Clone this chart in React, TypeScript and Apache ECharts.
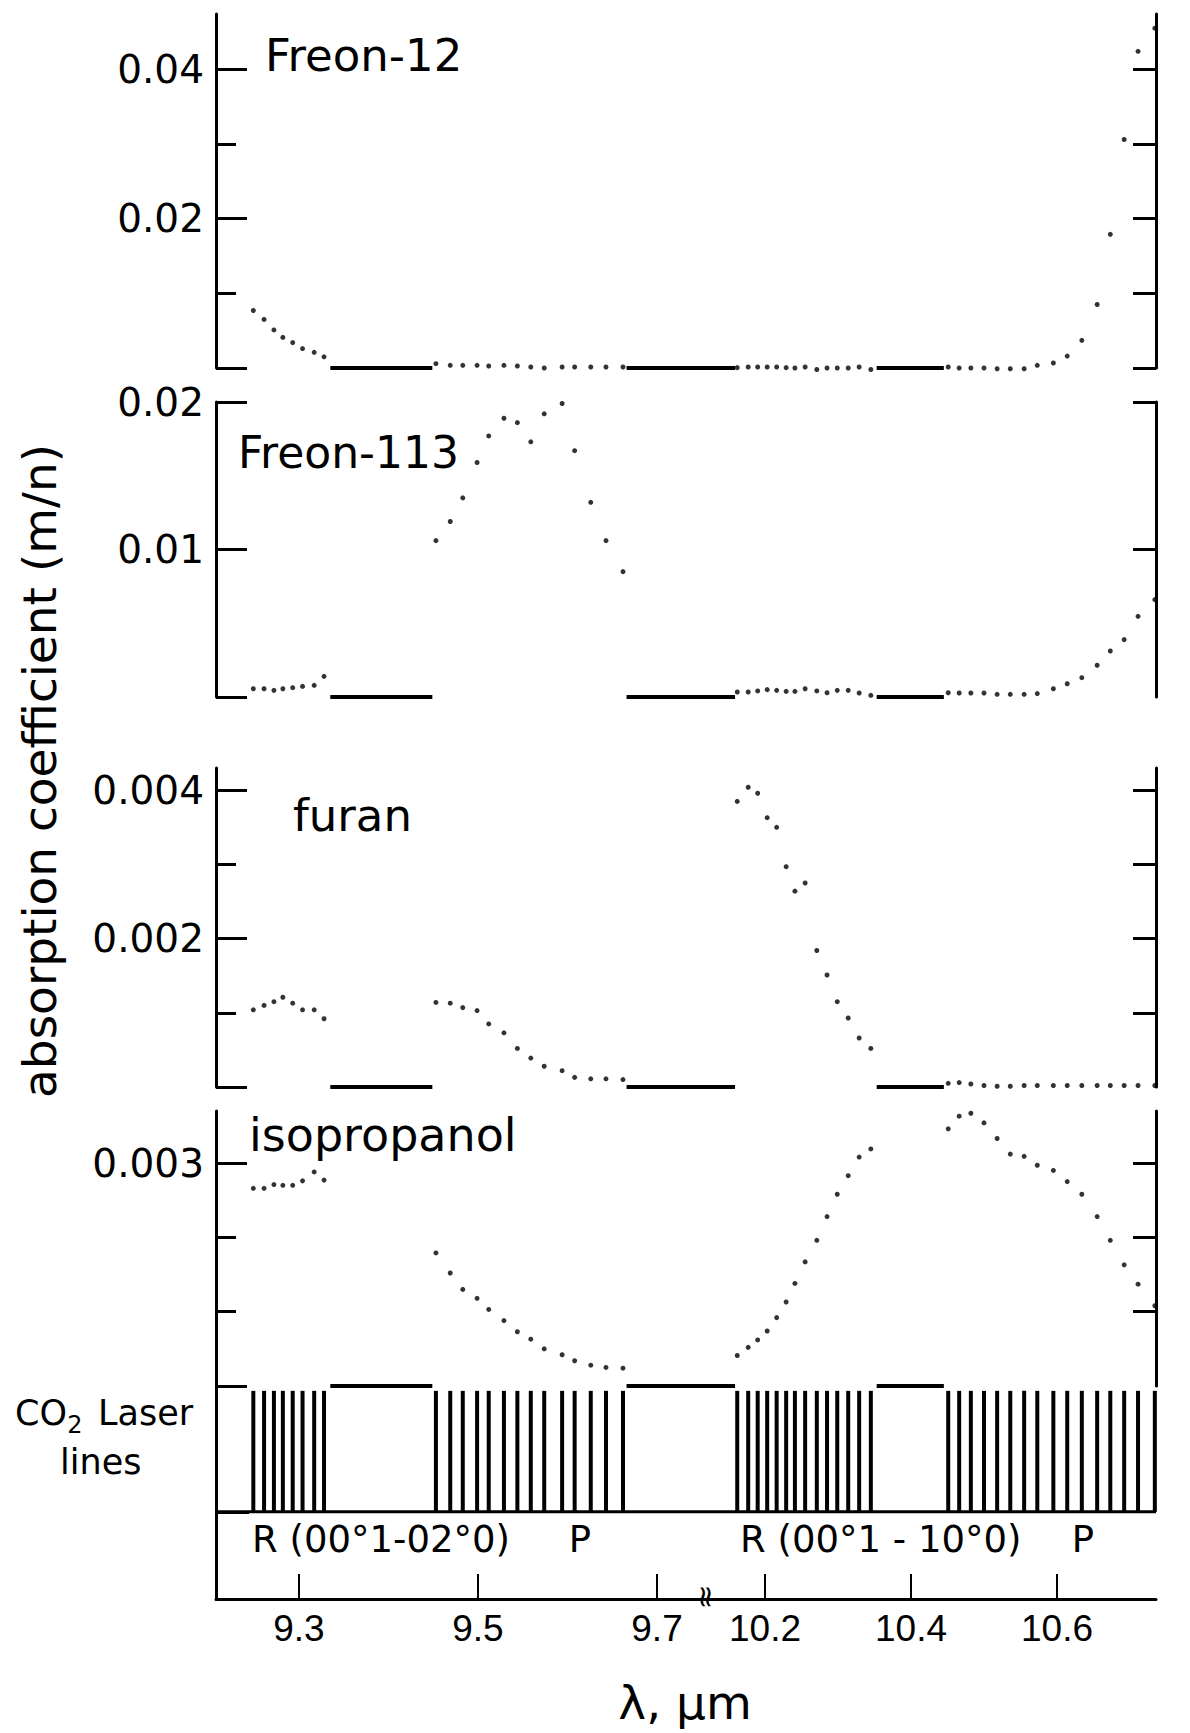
import React, { useEffect, useRef } from "react";
import * as echarts from "echarts";

// CO2 laser line wavelengths (µm)
const lambdaR94 = [9.249, 9.261, 9.272, 9.282, 9.293, 9.304, 9.317, 9.328];
const lambdaP94 = [9.453, 9.469, 9.483, 9.499, 9.512, 9.529, 9.544, 9.559, 9.574, 9.594, 9.608, 9.626, 9.643, 9.662];
const lambdaR104 = [10.162, 10.177, 10.19, 10.203, 10.216, 10.229, 10.241, 10.255, 10.271, 10.285, 10.299, 10.314, 10.329, 10.345];
const lambdaP104 = [10.451, 10.466, 10.482, 10.5, 10.518, 10.536, 10.555, 10.573, 10.595, 10.614, 10.634, 10.655, 10.673, 10.692, 10.711, 10.734];

// Freon-12
const freon12R94 = [0.0077, 0.0065, 0.0051, 0.0041, 0.0034, 0.0026, 0.0021, 0.0015];
const freon12P94 = [0.00058, 0.00036, 0.00036, 0.00036, 0.00027, 0.00036, 0.00027, 0.00013, 0.0, 0.00013, 0.00013, 0.00013, 0.00013, 0.00013];
const freon12R104 = [0.00005, 0.00013, 0.00013, 0.00013, 0.00013, 0.00005, 0.0, 0.00013, -0.0002, 0.0, 0.0, 0.0, 0.00013, -0.0002];
const freon12P104 = [0.00013, 0.0, 0.0, 0.0, -0.0001, -0.0001, -0.0001, 0.00036, 0.00067, 0.0016, 0.0037, 0.0085, 0.0179, 0.0306, 0.0424, 0.0455];

// Freon-113
const freon113R94 = [0.00056, 0.00056, 0.00045, 0.00056, 0.00063, 0.00072, 0.00079, 0.0014];
const freon113P94 = [0.0106, 0.0119, 0.0135, 0.0159, 0.0177, 0.0189, 0.0186, 0.0173, 0.0192, 0.0199, 0.0167, 0.0132, 0.0106, 0.0085];
const freon113R104 = [0.00034, 0.00034, 0.00041, 0.0005, 0.00045, 0.00038, 0.00038, 0.00056, 0.00041, 0.00029, 0.00045, 0.00045, 0.00027, 0.00011];
const freon113P104 = [0.00029, 0.00027, 0.00027, 0.00027, 0.00018, 0.00018, 0.00018, 0.00023, 0.00056, 0.0009, 0.00131, 0.00215, 0.00312, 0.00389, 0.00547, 0.0066];

// furan
const furanR94 = [0.00104, 0.0011, 0.00115, 0.00121, 0.00113, 0.00104, 0.00104, 0.00092];
const furanP94 = [0.00114, 0.00113, 0.00107, 0.00103, 0.00085, 0.00073, 0.00052, 0.00039, 0.00028, 0.00022, 0.00013, 0.00011, 0.00011, 0.0001];
const furanR104 = [0.00385, 0.00404, 0.00396, 0.00363, 0.0035, 0.00297, 0.00264, 0.00275, 0.00184, 0.00151, 0.00115, 0.00093, 0.00066, 0.00052];
const furanP104 = [0.00005, 0.00006, 0.00004, 0.00002, 0.00001, 0.00001, 0.00002, 0.00002, 0.00002, 0.00002, 0.00002, 0.00002, 0.00002, 0.00002, 0.00002, 0.00002];

// isopropanol
const isoR94 = [0.00266, 0.00266, 0.00271, 0.0027, 0.0027, 0.00276, 0.00288, 0.00277];
const isoP94 = [0.00179, 0.00152, 0.0013, 0.00118, 0.00103, 0.00088, 0.00073, 0.00063, 0.0005, 0.00042, 0.00034, 0.00028, 0.00025, 0.00024];
const isoR104 = [0.00041, 0.00052, 0.00062, 0.00074, 0.00092, 0.00113, 0.00138, 0.00167, 0.00196, 0.00228, 0.00258, 0.00283, 0.00308, 0.00319];
const isoP104 = [0.00346, 0.00363, 0.00367, 0.00354, 0.00333, 0.00312, 0.00309, 0.00297, 0.0029, 0.00275, 0.00258, 0.00228, 0.00196, 0.00163, 0.00137, 0.00108];

// zero-level segments between the laser bands (µm)
const gapsLeft = [[9.335, 9.449], [9.666, 9.7514]];
const gapsRight = [[10.1151, 10.159], [10.353, 10.445]];

// axis ranges (µm) of the two halves of the broken wavelength axis
const leftRange = [9.2073, 9.7514];
const rightRange = [10.1151, 10.7356];
const xTicksLeft = [9.3, 9.5, 9.7];
const xTicksRight = [10.2, 10.4, 10.6];

// y axes: max, major ticks, minor ticks, labels, right-side ticks
const freon12Max = 0.0474;
const freon12Major = [0, 0.02, 0.04];
const freon12Minor = [0.01, 0.03];
const freon12Labels = [0.02, 0.04];
const freon12Right = [0, 0.01, 0.02, 0.03, 0.04];

const freon113Max = 0.02;
const freon113Major = [0, 0.01, 0.02];
const freon113Minor: number[] = [];
const freon113Labels = [0.01, 0.02];
const freon113Right = [0.01, 0.02];

const furanMax = 0.0043;
const furanMajor = [0, 0.002, 0.004];
const furanMinor = [0.001, 0.003];
const furanLabels = [0.002, 0.004];
const furanRight = [0.001, 0.002, 0.003, 0.004];

const isoMax = 0.0037;
const isoMajor = [0, 0.003];
const isoMinor = [0.001, 0.002];
const isoLabels = [0.003];
const isoRight = [0.001, 0.002, 0.003];

const FONT = '"DejaVu Sans", sans-serif';
const BLACK = "#000";

export default function App() {
  const ref = useRef<HTMLDivElement>(null);

  useEffect(() => {
    if (!ref.current) return;
    const chart = echarts.init(ref.current, null, { renderer: "svg" });

    const GL = 216, GM = 703, GR = 1156;
    const panels = [
      { r94: freon12R94, p94: freon12P94, r104: freon12R104, p104: freon12P104, max: freon12Max, major: freon12Major, minor: freon12Minor, labels: freon12Labels, right: freon12Right, top: 14, height: 354 },
      { r94: freon113R94, p94: freon113P94, r104: freon113R104, p104: freon113P104, max: freon113Max, major: freon113Major, minor: freon113Minor, labels: freon113Labels, right: freon113Right, top: 402, height: 295 },
      { r94: furanR94, p94: furanP94, r104: furanR104, p104: furanP104, max: furanMax, major: furanMajor, minor: furanMinor, labels: furanLabels, right: furanRight, top: 768, height: 319 },
      { r94: isoR94, p94: isoP94, r104: isoR104, p104: isoP104, max: isoMax, major: isoMajor, minor: isoMinor, labels: isoLabels, right: isoRight, top: 1111, height: 275 },
    ];

    const grid: any[] = [];
    const xAxis: any[] = [];
    const yAxis: any[] = [];
    const series: any[] = [];

    const zip = (xs: number[], ys: number[]) => xs.map((x, i) => [x, ys[i]]);
    const axisLineStyle = { color: BLACK, width: 3 };

    const gapSeries = (gaps: number[][], xi: number, yi: number) =>
      gaps.forEach((g) =>
        series.push({
          type: "line",
          xAxisIndex: xi,
          yAxisIndex: yi,
          data: [[g[0], 0], [g[1], 0]],
          symbol: "none",
          silent: true,
          clip: false,
          lineStyle: { color: BLACK, width: 4 },
        })
      );

    panels.forEach((p) => {
      grid.push({ left: GL, top: p.top, width: GM - GL, height: p.height });
      const gL = grid.length - 1;
      grid.push({ left: GM, top: p.top, width: GR - GM, height: p.height });
      const gR = grid.length - 1;

      xAxis.push({ gridIndex: gL, type: "value", min: leftRange[0], max: leftRange[1], show: false });
      const xL = xAxis.length - 1;
      xAxis.push({ gridIndex: gR, type: "value", min: rightRange[0], max: rightRange[1], show: false });
      const xR = xAxis.length - 1;

      yAxis.push({
        gridIndex: gL,
        type: "value",
        position: "left",
        min: 0,
        max: p.max,
        axisLine: { show: true, onZero: false, lineStyle: axisLineStyle },
        axisTick: { show: true, inside: true, length: 31, customValues: p.major, lineStyle: { color: BLACK, width: 3 } },
        axisLabel: { show: true, customValues: p.labels, margin: 12, fontSize: 39, fontFamily: FONT, color: BLACK },
        splitLine: { show: false },
      });
      const yL = yAxis.length - 1;
      if (p.minor.length) {
        yAxis.push({
          gridIndex: gL,
          type: "value",
          position: "left",
          min: 0,
          max: p.max,
          axisLine: { show: false },
          axisTick: { show: true, inside: true, length: 20, customValues: p.minor, lineStyle: { color: BLACK, width: 3 } },
          axisLabel: { show: false },
          splitLine: { show: false },
        });
      }
      yAxis.push({
        gridIndex: gR,
        type: "value",
        position: "right",
        min: 0,
        max: p.max,
        axisLine: { show: true, onZero: false, lineStyle: axisLineStyle },
        axisTick: { show: true, inside: true, length: 23, customValues: p.right, lineStyle: { color: BLACK, width: 3 } },
        axisLabel: { show: false },
        splitLine: { show: false },
      });
      const yR = yAxis.length - 1;

      series.push({
        type: "scatter",
        xAxisIndex: xL,
        yAxisIndex: yL,
        symbolSize: 5,
        clip: false,
        itemStyle: { color: BLACK },
        data: [...zip(lambdaR94, p.r94), ...zip(lambdaP94, p.p94)],
      });
      series.push({
        type: "scatter",
        xAxisIndex: xR,
        yAxisIndex: yR,
        symbolSize: 5,
        clip: false,
        itemStyle: { color: BLACK },
        data: [...zip(lambdaR104, p.r104), ...zip(lambdaP104, p.p104)],
      });
      gapSeries(gapsLeft, xL, yL);
      gapSeries(gapsRight, xR, yR);
    });

    // laser lines panel + wavelength axis
    const lTop = 1386, lHeight = 213;
    grid.push({ left: GL, top: lTop, width: GM - GL, height: lHeight });
    const lgL = grid.length - 1;
    grid.push({ left: GM, top: lTop, width: GR - GM, height: lHeight });
    const lgR = grid.length - 1;

    const bottomAxis = (gi: number, range: number[], ticks: number[]) => ({
      gridIndex: gi,
      type: "value",
      position: "bottom",
      min: range[0],
      max: range[1],
      axisLine: { show: true, onZero: false, lineStyle: axisLineStyle },
      axisTick: { show: true, inside: true, length: 25, customValues: ticks, lineStyle: { color: BLACK, width: 2 } },
      axisLabel: {
        show: true,
        customValues: ticks,
        margin: 11,
        fontSize: 37,
        fontFamily: '"Liberation Sans Narrow", "Liberation Sans", sans-serif',
        color: BLACK,
      },
      splitLine: { show: false },
    });
    xAxis.push(bottomAxis(lgL, leftRange, xTicksLeft));
    const lxL = xAxis.length - 1;
    xAxis.push(bottomAxis(lgR, rightRange, xTicksRight));
    const lxR = xAxis.length - 1;

    yAxis.push({
      gridIndex: lgL,
      type: "value",
      position: "left",
      min: -0.72,
      max: 1.04,
      axisLine: { show: true, onZero: false, lineStyle: axisLineStyle },
      axisTick: { show: true, inside: true, length: 33, customValues: [0], lineStyle: { color: BLACK, width: 3 } },
      axisLabel: { show: false },
      splitLine: { show: false },
    });
    const lyL = yAxis.length - 1;
    yAxis.push({ gridIndex: lgR, type: "value", min: -0.72, max: 1.04, show: false });
    const lyR = yAxis.length - 1;

    series.push({
      type: "bar",
      xAxisIndex: lxL,
      yAxisIndex: lyL,
      barWidth: 4,
      itemStyle: { color: BLACK },
      data: [...lambdaR94, ...lambdaP94].map((x) => [x, 1]),
    });
    series.push({
      type: "bar",
      xAxisIndex: lxR,
      yAxisIndex: lyR,
      barWidth: 4,
      itemStyle: { color: BLACK },
      data: [...lambdaR104, ...lambdaP104].map((x) => [x, 1]),
    });
    series.push({
      type: "line",
      xAxisIndex: lxL,
      yAxisIndex: lyL,
      symbol: "none",
      silent: true,
      lineStyle: { color: BLACK, width: 3 },
      data: [[leftRange[0], 0], [leftRange[1], 0]],
    });
    series.push({
      type: "line",
      xAxisIndex: lxR,
      yAxisIndex: lyR,
      symbol: "none",
      silent: true,
      lineStyle: { color: BLACK, width: 3 },
      data: [[rightRange[0], 0], [rightRange[1], 0]],
    });

    const txt = (text: string, x: number, y: number, size: number, align = "left", extra: any = {}) => ({
      type: "text",
      x,
      y,
      silent: true,
      ...extra,
      style: {
        text,
        fill: BLACK,
        font: `${size}px ${FONT}`,
        fontSize: size,
        fontFamily: FONT,
        textAlign: align,
        align,
        textVerticalAlign: "middle",
        verticalAlign: "middle",
      },
    });

    const graphic = [
      txt("absorption coefficient (m/n)", 39, 771, 47, "center", { rotation: Math.PI / 2 }),
      txt("Freon-12", 265, 55, 45),
      txt("Freon-113", 238, 452, 44),
      txt("furan", 293, 815, 45),
      txt("isopropanol", 249, 1135, 46),
      txt("CO", 15, 1413, 35),
      txt("2", 75, 1425, 24, "center"),
      txt("Laser", 98, 1413, 35),
      txt("lines", 60, 1462, 35),
      txt("R (00°1-02°0)", 252, 1539, 37),
      txt("P", 580, 1539, 37, "center"),
      txt("R (00°1 - 10°0)", 740, 1539, 37),
      txt("P", 1083, 1539, 37, "center"),
      txt("λ, μm", 685, 1702, 47, "center"),
      txt("≈", 704, 1597, 30, "center", { rotation: Math.PI / 2 }),
    ];

    chart.setOption({
      animation: false,
      backgroundColor: "#fff",
      grid,
      xAxis,
      yAxis,
      series,
      graphic,
    });

    return () => chart.dispose();
  }, []);

  return (
    <div
      ref={ref}
      style={{ position: "fixed", left: 0, top: 0, width: 1190, height: 1733, background: "#fff" }}
    />
  );
}
